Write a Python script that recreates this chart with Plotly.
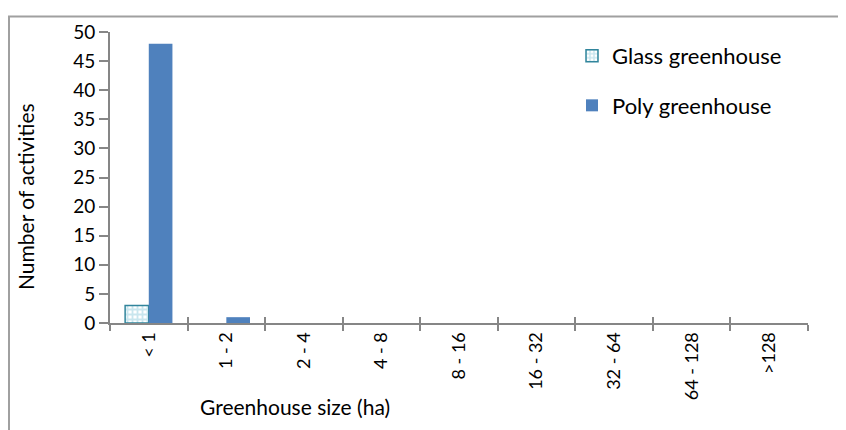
import plotly.graph_objects as go

categories = ["< 1", "1 - 2", "2 - 4", "4 - 8", "8 - 16", "16 - 32", "32 - 64", "64 - 128", ">128"]
glass = [3, 0, 0, 0, 0, 0, 0, 0, 0]
poly = [48, 1, 0, 0, 0, 0, 0, 0, 0]
y_ticks = [0, 5, 10, 15, 20, 25, 30, 35, 40, 45, 50]

FONT = "Lato, 'Open Sans', sans-serif"
OFF = 8  # page body margin
W, H = 846 - OFF, 430 - OFF
# plot area in screen pixels
SX0, SX1, SY0, SY1 = 110, 808, 25, 323
L, R, T, B = SX0 - OFF, W - (SX1 - OFF), SY0 - OFF, H - (SY1 - OFF)
pw, ph = W - L - R, H - T - B


def px_x(v):
    return (v - OFF - L) / pw


def px_y(v):
    return (T + ph - (v - OFF)) / ph


fig = go.Figure()
fig.add_trace(go.Bar(
    name="Glass greenhouse", x=categories, y=glass,
    marker=dict(color="#ffffff",
                line=dict(color="#31859C", width=[1.5 if v else 0 for v in glass]),
                pattern=dict(shape="+", fgcolor="#93CDDD", bgcolor="#ffffff", size=5, solidity=0.6)),
    legendgroup="g",
))
fig.add_trace(go.Bar(
    name="Poly greenhouse", x=categories, y=poly,
    marker=dict(color="#4F81BD", line=dict(color="#4F81BD", width=0)),
    legendgroup="p",
))
# invisible helper trace so the overlay axis can draw the inner half of the crossing ticks
fig.add_trace(go.Scatter(x=categories, y=[0] * len(categories), xaxis="x2", mode="markers",
                         marker=dict(opacity=0), showlegend=False, hoverinfo="skip"))

fig.update_layout(
    width=W, height=H,
    margin=dict(l=L, r=R, t=T, b=B),
    paper_bgcolor="white", plot_bgcolor="white",
    barmode="group", bargap=0.39, bargroupgap=0,
    font=dict(family=FONT, size=18, color="#000000"),
    showlegend=True,
    legend=dict(x=px_x(572), y=px_y(28), xanchor="left", yanchor="top",
                font=dict(size=22, family=FONT), tracegroupgap=18, bgcolor="rgba(0,0,0,0)",
                itemwidth=30),
    xaxis=dict(type="category", tickson="boundaries", ticks="outside", ticklen=6, tickwidth=2,
               tickcolor="#868686", showline=True, linecolor="#868686", linewidth=2,
               tickangle=-90, tickfont=dict(size=18), showgrid=False, ticklabelstandoff=0),
    xaxis2=dict(type="category", overlaying="x", matches="x", anchor="y", side="bottom",
                tickson="boundaries", ticks="inside", ticklen=6, tickwidth=2,
                tickcolor="#868686", showline=False, showticklabels=False, showgrid=False),
    yaxis=dict(range=[0, 50], tickvals=y_ticks, ticks="outside", ticklen=9, tickwidth=2,
               tickcolor="#868686", showline=True, linecolor="#868686", linewidth=2,
               showgrid=False, zeroline=False, tickfont=dict(size=19)),
    annotations=[
        dict(text="Number of activities", x=px_x(25), y=px_y(194), xref="paper", yref="paper",
             xanchor="center", yanchor="middle",
             showarrow=False, textangle=-90, font=dict(size=21)),
        dict(text="Greenhouse size (ha)", x=px_x(295), y=px_y(408), xref="paper", yref="paper",
             xanchor="center", yanchor="middle",
             showarrow=False, font=dict(size=21)),
    ],
    shapes=[dict(type="rect", xref="paper", yref="paper",
                 x0=px_x(OFF + 1), x1=px_x(W + OFF + 10),
                 y0=px_y(H + OFF + 10), y1=px_y(OFF + 1),
                 line=dict(color="#a0a0a0", width=2), fillcolor="rgba(0,0,0,0)", layer="below")],
)

fig.write_html("out.html")
